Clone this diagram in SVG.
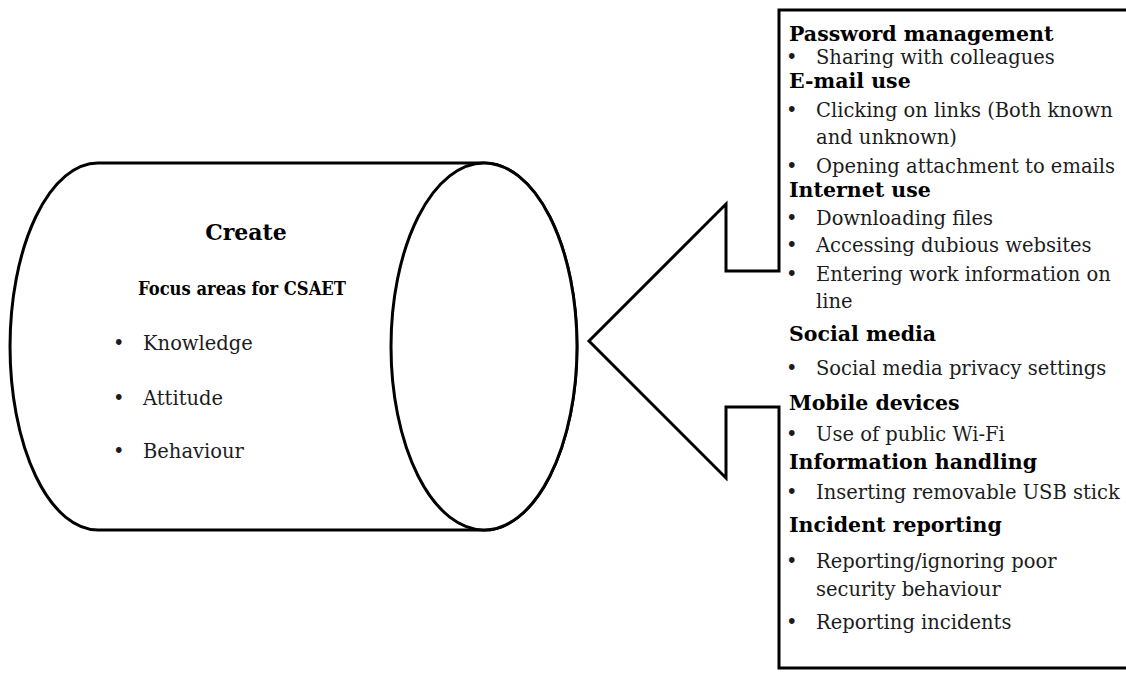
<svg xmlns="http://www.w3.org/2000/svg" width="1126" height="673" viewBox="0 0 1126 673">
  <style>
    .shape { fill: #ffffff; stroke: #000000; stroke-width: 3; stroke-linejoin: miter; }
    .t { font-family: "DejaVu Serif", "Liberation Serif", serif; fill: #1c1c1c; }
    .h { font-weight: bold; fill: #000000; }
    .r { font-size: 19.5px; }
    .hb { font-size: 20.5px; }
  </style>
  <rect width="1126" height="673" fill="#ffffff"/>

  <!-- Cylinder node -->
  <g id="create-cylinder">
    <path class="shape" d="M 98,163 L 484,163 A 93,183.5 0 0 1 484,530 L 98,530 A 88,183.5 0 0 1 98,163 Z"/>
    <ellipse class="shape" cx="484" cy="346.5" rx="93" ry="183.5"/>
    <text class="t h" x="246" y="240" font-size="22" text-anchor="middle">Create</text>
    <text class="t h" x="138" y="295" font-size="18.5" textLength="208" lengthAdjust="spacingAndGlyphs">Focus areas for CSAET</text>
    <g class="t r">
      <text x="113" y="350">•</text><text x="143" y="350">Knowledge</text>
      <text x="113" y="405">•</text><text x="143" y="405">Attitude</text>
      <text x="113" y="458">•</text><text x="143" y="458">Behaviour</text>
    </g>
  </g>

  <!-- Arrow callout pointing at the cylinder -->
  <g id="connectors">
    <path class="shape" d="M 1130,10 L 779,10 L 779,271 L 726,271 L 726,204 L 589,341 L 726,478 L 726,407 L 779,407 L 779,668 L 1130,668"/>
  </g>

  <!-- Focus area list -->
  <g id="focus-list" class="t">
    <text class="h hb" x="789" y="41">Password management</text>
    <text class="r" x="786" y="64">•</text><text class="r" x="816" y="64">Sharing with colleagues</text>
    <text class="h hb" x="789" y="88">E-mail use</text>
    <text class="r" x="786" y="117">•</text><text class="r" x="816" y="117">Clicking on links (Both known</text>
    <text class="r" x="816" y="144">and unknown)</text>
    <text class="r" x="786" y="173">•</text><text class="r" x="816" y="173">Opening attachment to emails</text>
    <text class="h hb" x="789" y="197">Internet use</text>
    <text class="r" x="786" y="225">•</text><text class="r" x="816" y="225">Downloading files</text>
    <text class="r" x="786" y="252">•</text><text class="r" x="816" y="252">Accessing dubious websites</text>
    <text class="r" x="786" y="281">•</text><text class="r" x="816" y="281">Entering work information on</text>
    <text class="r" x="816" y="308">line</text>
    <text class="h hb" x="789" y="341">Social media</text>
    <text class="r" x="786" y="375">•</text><text class="r" x="816" y="375">Social media privacy settings</text>
    <text class="h hb" x="789" y="410">Mobile devices</text>
    <text class="r" x="786" y="441">•</text><text class="r" x="816" y="441">Use of public Wi-Fi</text>
    <text class="h hb" x="789" y="469">Information handling</text>
    <text class="r" x="786" y="499">•</text><text class="r" x="816" y="499">Inserting removable USB stick</text>
    <text class="h hb" x="789" y="532">Incident reporting</text>
    <text class="r" x="786" y="568">•</text><text class="r" x="816" y="568">Reporting/ignoring poor</text>
    <text class="r" x="816" y="596">security behaviour</text>
    <text class="r" x="786" y="629">•</text><text class="r" x="816" y="629">Reporting incidents</text>
  </g>
</svg>
